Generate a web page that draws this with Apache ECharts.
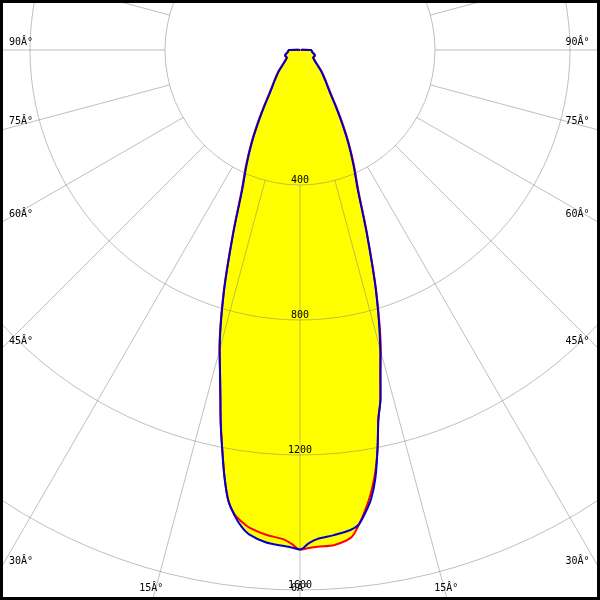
<!DOCTYPE html>
<html><head><meta charset="utf-8">
<script src="https://cdn.jsdelivr.net/npm/echarts@6/dist/echarts.min.js"></script>
<style>html,body{margin:0;padding:0;background:#fff}#c{width:600px;height:600px}</style>
</head><body><div id="c"></div>
<script>
// gamma angles (deg from nadir) shared by all half-planes
const angles = [0,1,2,4,6,7,8,9,10,11,12,13,14,15,17.5,20,22.5,25,27.5,30,32.5,35,40,45,50,55,60,65,70,75,80,85,90,95,100,120,150,180];
// luminous intensity (cd) - red curve (left / right half)
const redLeft  = [1480,1463,1450,1440,1424,1409,1390,1354,1287,1207,1130,1049,980,922,752,582,452,379,314,252,200,160,118,91,66,52,45,46,47,43,37,35,33,8,2,0,0,0];
const redRight = [1480,1476,1473,1470,1452,1420,1380,1334,1278,1204,1117,1060,985,925,752,582,452,379,314,252,200,160,118,91,66,52,45,46,47,43,37,35,33,8,2,0,0,0];
// blue curve (left / right half)
const blueLeft  = [1480,1474,1470,1462,1443,1423,1393,1354,1287,1207,1130,1049,980,919,749,579,447,374,309,247,196,156,115,89,65,52,45,46,47,43,37,35,33,8,2,0,0,0];
const blueRight = [1480,1462,1450,1441,1430,1418,1386,1347,1287,1204,1117,1060,985,919,749,579,447,374,309,247,196,156,115,89,65,52,45,46,47,43,37,35,33,8,2,0,0,0];
// tick labels
const radiusTicks = [400, 800, 1200, 1600];
const angleTickLabels = ['90Â°','75Â°','60Â°','45Â°','30Â°','15Â°','0Â°','15Â°','30Â°','45Â°','60Â°','75Â°','90Â°'];

// layout (not data)
const R = 540, CENTER = [300, 50];
const labelLayout = [
  {x:9, y:42.5, a:'left'}, {x:9, y:121.5, a:'left'}, {x:9, y:214.5, a:'left'}, {x:9, y:341.7, a:'left'},
  {x:9, y:561, a:'left'}, {x:151.3, y:588, a:'center'}, {x:300, y:588, a:'center'},
  {x:446.3, y:588, a:'center'}, {x:589.5, y:561, a:'right'}, {x:589.5, y:341.7, a:'right'},
  {x:589.5, y:214, a:'right'}, {x:589.5, y:121.5, a:'right'}, {x:589.5, y:42.5, a:'right'}
];
const gridColor = 'rgba(128,128,128,0.5)';
const FONT = '10px "DejaVu Sans Mono"';
const SMOOTH = 0.3;

function halfPlanes(left, right) {
  const pts = [];
  for (let i = angles.length - 1; i >= 0; i--) pts.push([left[i], angles[i]]);
  for (let i = 0; i < angles.length; i++) pts.push([right[i], 360 - angles[i]]);
  return pts;
}
const redData = halfPlanes(redLeft, redRight);
const blueData = halfPlanes(blueLeft, blueRight);

const chart = echarts.init(document.getElementById('c'), null, {renderer: 'canvas'});
const graphics = angleTickLabels.map((t, i) => ({
  type: 'text', x: labelLayout[i].x, y: labelLayout[i].y, z: 50,
  style: {text: t, font: FONT, fill: '#000', align: labelLayout[i].a, verticalAlign: 'middle'}
}));
graphics.push({type: 'rect', z: 60, shape: {x: 1.5, y: 1.5, width: 597, height: 597},
  style: {fill: 'none', stroke: '#000', lineWidth: 3}});

chart.setOption({
  animation: false,
  backgroundColor: '#ffffff',
  polar: [
    {center: CENTER, radius: [0, R]},
    {center: CENTER, radius: [R / 4, R * 2]}
  ],
  angleAxis: [
    {polarIndex: 0, type: 'value', min: 0, max: 360, startAngle: -90, clockwise: true,
     axisLine: {show: false}, axisTick: {show: false}, axisLabel: {show: false}, splitLine: {show: false}},
    {polarIndex: 1, type: 'value', min: 0, max: 360, interval: 15, startAngle: -90, clockwise: true, z: 2,
     axisLine: {show: false}, axisTick: {show: false}, axisLabel: {show: false},
     splitLine: {show: true, lineStyle: {color: gridColor, width: 1}}}
  ],
  radiusAxis: [
    {polarIndex: 0, type: 'value', min: 0, max: radiusTicks[radiusTicks.length - 1], interval: radiusTicks[0], z: 2,
     axisLine: {show: false}, axisTick: {show: false},
     axisLabel: {show: true, margin: 0, align: 'center', verticalAlign: 'bottom', lineHeight: 9,
       color: '#000', fontFamily: 'DejaVu Sans Mono', fontSize: 10,
       formatter: v => (radiusTicks.indexOf(v) >= 0 ? String(v) : '')},
     splitLine: {show: true, lineStyle: {color: gridColor, width: 1}}},
    {polarIndex: 1, type: 'value', min: 0, max: 1, show: false,
     axisLine: {show: false}, axisTick: {show: false}, axisLabel: {show: false}, splitLine: {show: false}}
  ],
  series: [
    {type: 'line', coordinateSystem: 'polar', polarIndex: 0, data: redData, symbol: 'none', silent: true, z: 1, smooth: SMOOTH,
     lineStyle: {width: 0, opacity: 0}, areaStyle: {color: '#ffff00', opacity: 1}},
    {type: 'line', coordinateSystem: 'polar', polarIndex: 0, data: blueData, symbol: 'none', silent: true, z: 1, smooth: SMOOTH,
     lineStyle: {width: 0, opacity: 0}, areaStyle: {color: '#ffff00', opacity: 1}},
    {type: 'line', name: 'red', coordinateSystem: 'polar', polarIndex: 0, data: redData, symbol: 'none', silent: true, z: 3, smooth: SMOOTH,
     lineStyle: {color: '#ff0000', width: 2}},
    {type: 'line', name: 'blue', coordinateSystem: 'polar', polarIndex: 0, data: blueData, symbol: 'none', silent: true, z: 4, smooth: SMOOTH,
     lineStyle: {color: '#0000cc', width: 2}}
  ],
  graphic: graphics
});
</script></body></html>
